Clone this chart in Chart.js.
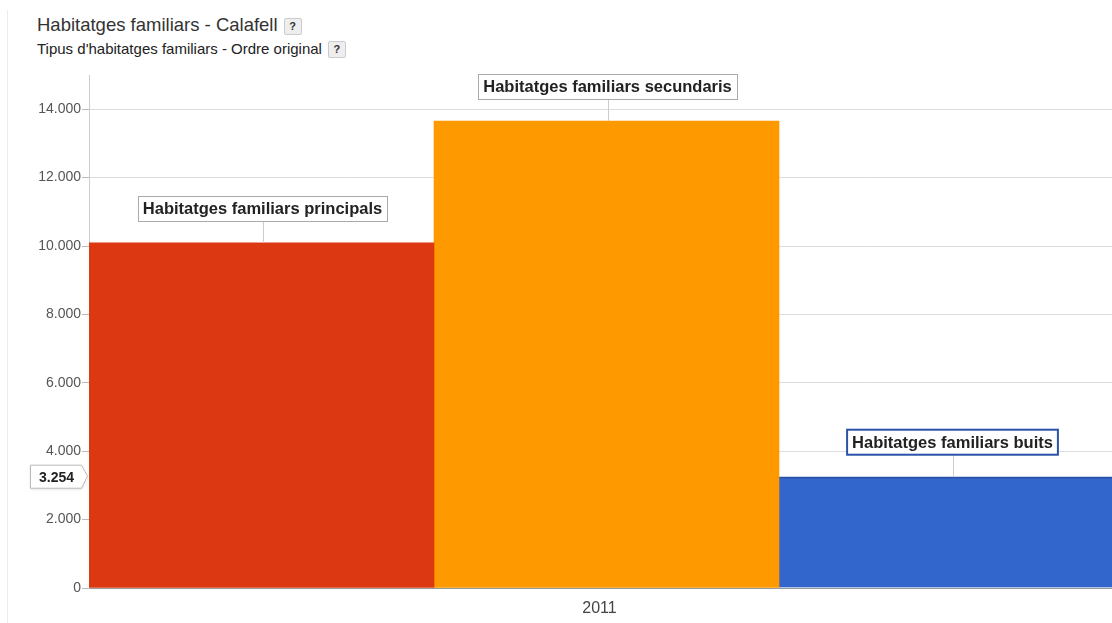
<!DOCTYPE html>
<html>
<head>
<meta charset="utf-8">
<script src="https://cdn.jsdelivr.net/npm/chart.js@4"></script>
<style>
  html, body { margin: 0; padding: 0; background: #fff; overflow: hidden; }
  #wrap { position: relative; width: 1112px; height: 623px; overflow: hidden; font-family: Arial, "Liberation Sans", sans-serif; }
  #vline { position: absolute; left: 7px; top: 10px; bottom: 0; border-left: 1px solid #ececec; }
  #titol { position: absolute; left: 37px; top: 14px; font-size: 18.5px; color: #333; white-space: nowrap; }
  #subtitol { position: absolute; left: 37px; top: 40px; font-size: 15px; color: #222; white-space: nowrap; }
  .ajuda { display: inline-block; width: 16px; height: 15px; line-height: 15px; margin-left: 6px; font-size: 11px; font-weight: bold; text-align: center; color: #333; background: #eee; border: 1px solid #ccc; border-radius: 2px; vertical-align: 1px; }
  canvas { position: absolute; left: 0; top: 0; }
</style>
</head>
<body>
<div id="wrap">
  <div id="vline"></div>
  <div id="titol">Habitatges familiars - Calafell<span class="ajuda">?</span></div>
  <div id="subtitol">Tipus d'habitatges familiars - Ordre original<span class="ajuda">?</span></div>
  <canvas id="grafic" width="1124" height="623"></canvas>
</div>
<script>
const categories = ["2011"];
const series = ["Habitatges familiars principals", "Habitatges familiars secundaris", "Habitatges familiars buits"];
const principals = [10090];
const secundaris = [13650];
const buits = [3254];
const yTicks = [0, 2000, 4000, 6000, 8000, 10000, 12000, 14000];

const colors = ["#dc3912", "#ff9900", "#3366cc"];

function formatar(v) {
  return String(v).replace(/\B(?=(\d{3})+(?!\d))/g, ".");
}

// etiquetes amb caixa sobre cada barra + valor destacat a l'eix
const etiquetes = {
  id: "etiquetes",
  afterDatasetsDraw(chart) {
    const ctx = chart.ctx;
    ctx.save();
    ctx.font = "bold 16.5px Arial, 'Liberation Sans', sans-serif";
    ctx.textAlign = "center";
    ctx.textBaseline = "middle";
    chart.data.datasets.forEach((ds, i) => {
      const bar = chart.getDatasetMeta(i).data[0];
      const w = ctx.measureText(ds.label).width + 10;
      const h = 25;
      const bottom = bar.y - 22;
      const x = bar.x + 1;
      ctx.strokeStyle = "#ccc";
      ctx.lineWidth = 1;
      ctx.beginPath();
      ctx.moveTo(Math.round(x) + 0.5, bottom);
      ctx.lineTo(Math.round(x) + 0.5, bar.y);
      ctx.stroke();
      ctx.fillStyle = "#fff";
      ctx.fillRect(x - w / 2, bottom - h, w, h);
      if (i === 2) {
        ctx.strokeStyle = "#2a52a8";
        ctx.lineWidth = 2;
        ctx.strokeRect(x - w / 2, bottom - h, w, h);
      } else {
        ctx.strokeStyle = "#aaa";
        ctx.lineWidth = 1;
        ctx.strokeRect(Math.round(x - w / 2) + 0.5, Math.round(bottom - h) + 0.5, Math.round(w), h);
      }
      ctx.fillStyle = "#222";
      ctx.fillText(ds.label, x, bottom - h / 2 + 1);
    });

    // valor de la barra seleccionada a l'eix Y
    const y = chart.scales.y.getPixelForValue(buits[0]);
    const right = chart.chartArea.left - 8;
    const left = 30;
    ctx.fillStyle = "#fff";
    ctx.strokeStyle = "#bbb";
    ctx.lineWidth = 1;
    ctx.shadowColor = "rgba(0,0,0,0.15)";
    ctx.shadowBlur = 3;
    ctx.shadowOffsetY = 1;
    ctx.beginPath();
    ctx.moveTo(left + 0.5, y - 11.5);
    ctx.lineTo(right + 0.5, y - 11.5);
    ctx.lineTo(right + 6.5, y - 0.5);
    ctx.lineTo(right + 0.5, y + 11.5);
    ctx.lineTo(left + 0.5, y + 11.5);
    ctx.closePath();
    ctx.fill();
    ctx.shadowColor = "transparent";
    ctx.stroke();
    ctx.fillStyle = "#222";
    ctx.font = "bold 14px Arial, 'Liberation Sans', sans-serif";
    ctx.textAlign = "center";
    ctx.fillText(formatar(buits[0]), (left + right) / 2 + 1, y + 1);
    ctx.restore();
  }
};

new Chart(document.getElementById("grafic").getContext("2d"), {
  type: "bar",
  data: {
    labels: categories,
    datasets: [
      { label: series[0], data: principals, backgroundColor: colors[0], borderWidth: 0 },
      { label: series[1], data: secundaris, backgroundColor: colors[1], borderWidth: 0 },
      { label: series[2], data: buits, backgroundColor: colors[2], borderColor: "#2a52a8", borderWidth: { top: 2, bottom: 2, left: 0, right: 0 } }
    ]
  },
  options: {
    responsive: false,
    animation: false,
    layout: { padding: { top: 75, left: 0, right: 0, bottom: 0 } },
    categoryPercentage: 1,
    barPercentage: 1,
    plugins: {
      legend: { display: false },
      tooltip: { enabled: false }
    },
    scales: {
      x: {
        grid: { display: false, drawTicks: false },
        border: { color: "#999" },
        ticks: { color: "#444", font: { family: "Arial", size: 16 }, padding: 11, labelOffset: -7 },
        afterFit: (scale) => { scale.height = 35; }
      },
      y: {
        min: 0,
        max: 15000,
        afterFit: (scale) => { scale.width = 89; },
        afterBuildTicks: (scale) => { scale.ticks = yTicks.map(v => ({ value: v })); },
        ticks: {
          includeBounds: false,
          color: "#555",
          font: { family: "Arial", size: 14 },
          padding: 1,
          callback: (v) => formatar(v)
        },
        grid: { color: "#ddd", tickColor: "#bbb", tickLength: 7 },
        border: { color: "#ccc" }
      }
    }
  },
  plugins: [etiquetes]
});
</script>
</body>
</html>
